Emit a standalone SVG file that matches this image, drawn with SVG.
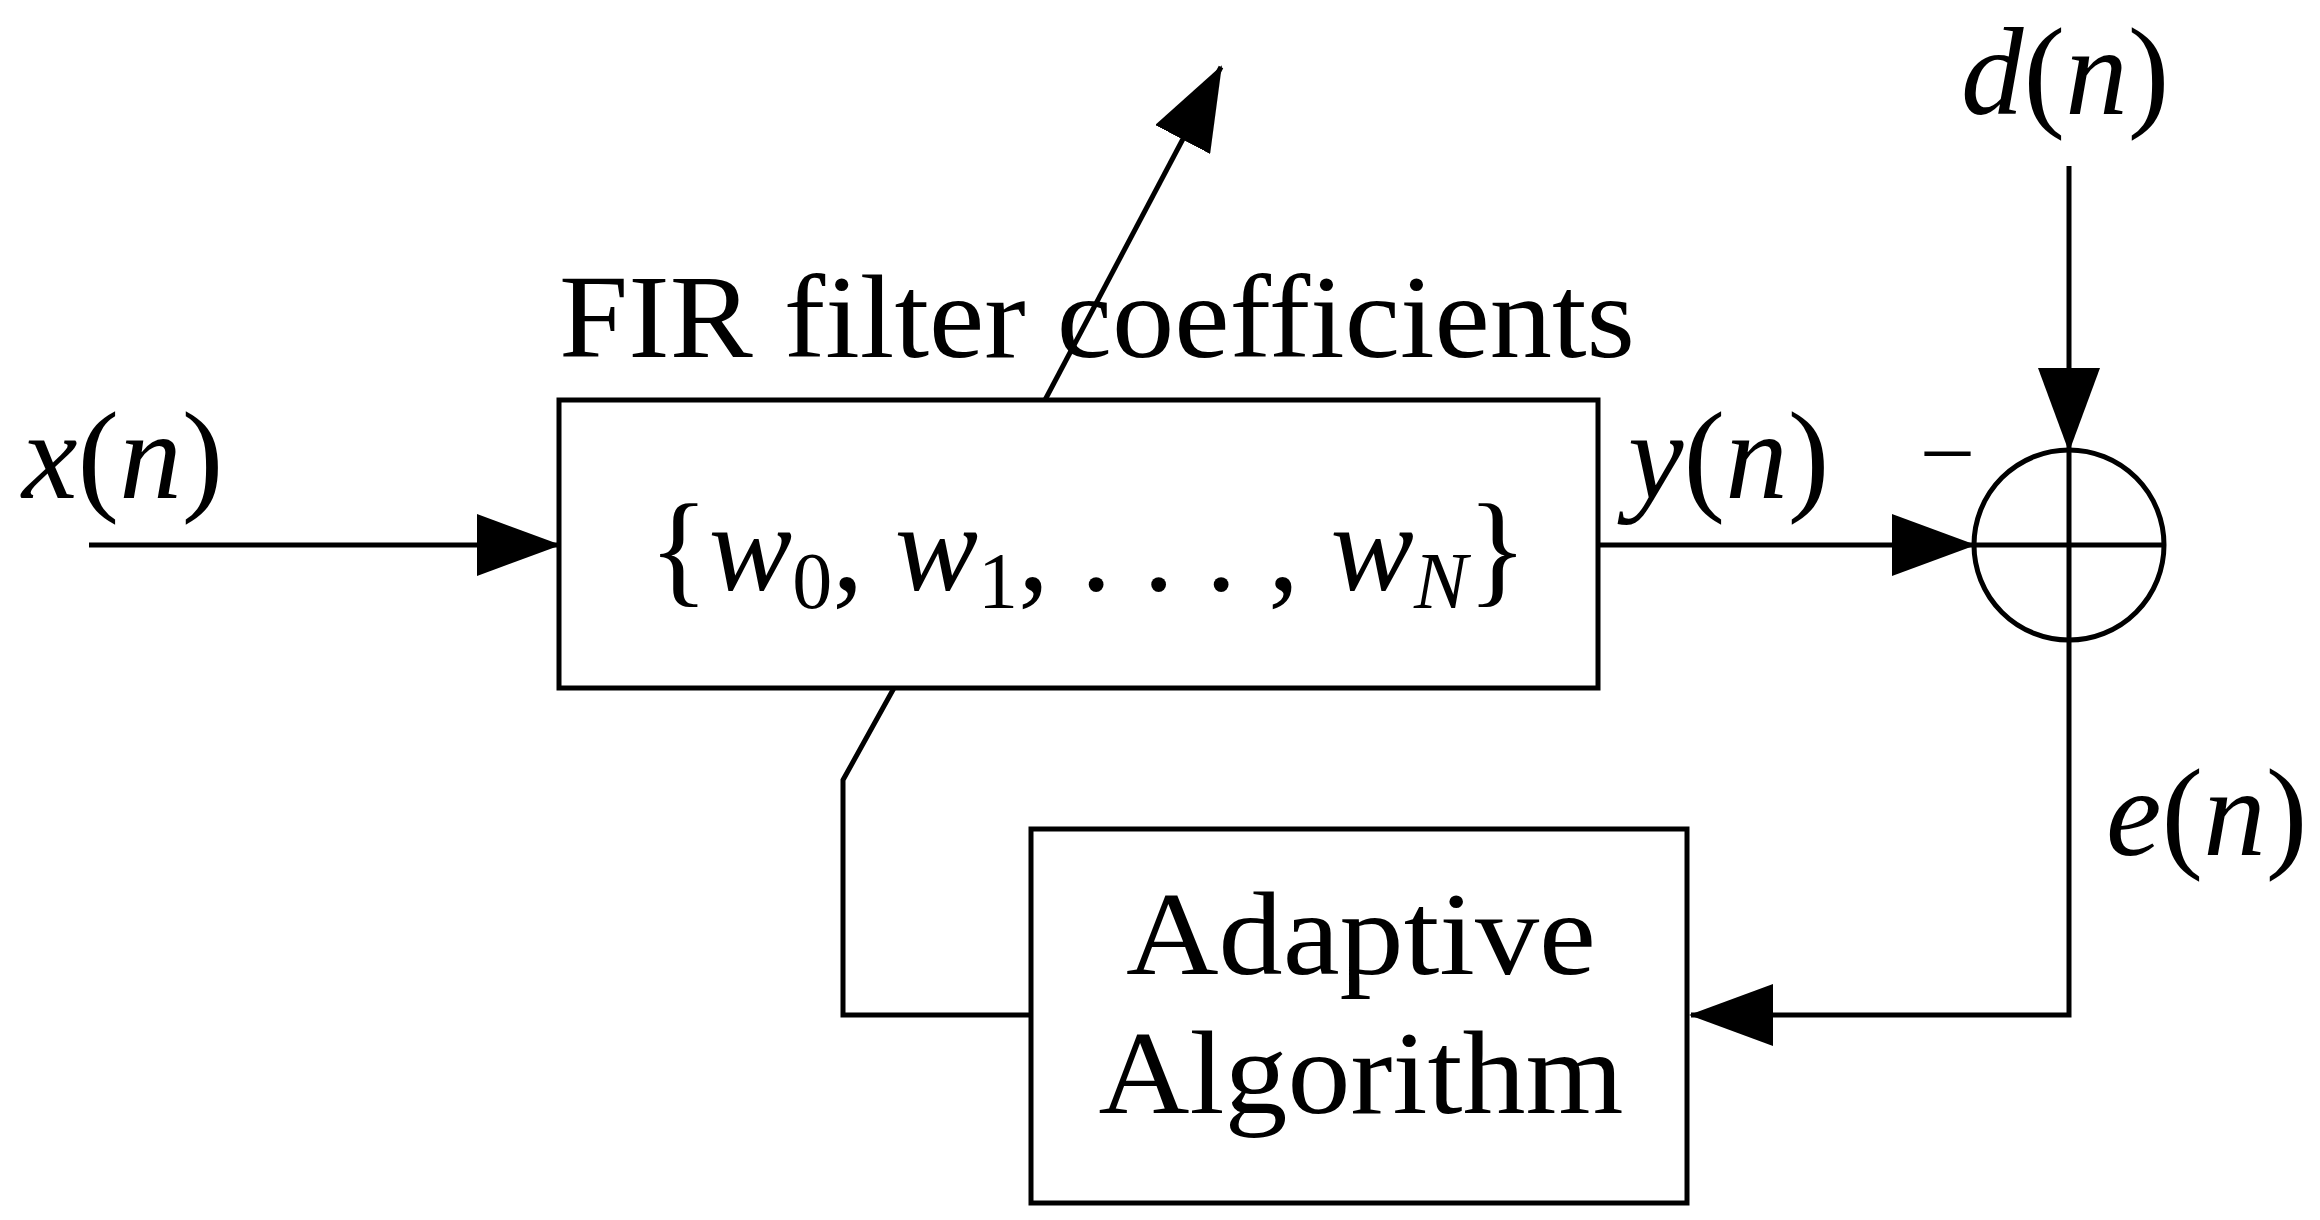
<svg xmlns="http://www.w3.org/2000/svg" width="2320" height="1220" viewBox="0 0 2320 1220">
<style>
.l{fill:none;stroke:#000;stroke-width:5}
.t{font-family:"Liberation Serif",serif;font-size:118px;fill:#000}
.m{font-family:"Liberation Serif",serif;font-style:italic;font-size:125px;fill:#000}
.s{font-size:80px}
</style>
<defs>
<marker id="a" markerUnits="userSpaceOnUse" markerWidth="84" markerHeight="62" refX="82" refY="31" orient="auto"><path d="M0,0L84,31L0,62Z" fill="#000"/></marker>
</defs>
<rect width="2320" height="1220" fill="#fff"/>
<g id="fir"><rect class="l" x="559" y="400" width="1039" height="288"/>
<text class="t" x="1088" y="590" text-anchor="middle" style="font-size:125px">{<tspan font-style="italic">w</tspan><tspan class="s" dy="18">0</tspan><tspan dy="-18">, </tspan><tspan font-style="italic">w</tspan><tspan class="s" dy="18">1</tspan><tspan dy="-18">, . . . , </tspan><tspan font-style="italic">w</tspan><tspan class="s" font-style="italic" dy="18">N</tspan><tspan dy="-18">}</tspan></text></g>
<g id="firlabel"><text class="t" x="559" y="357" textLength="1076" lengthAdjust="spacingAndGlyphs">FIR filter coefficients</text></g>
<g id="sum"><circle class="l" cx="2069" cy="545" r="95"/><path class="l" d="M1974,545H2164M2069,450V640"/>
<text class="t" x="1925" y="475" style="font-size:90px">–</text></g>
<g id="adapt"><rect class="l" x="1031" y="829" width="656" height="374"/>
<text class="t" x="1361" y="974" text-anchor="middle" textLength="470" lengthAdjust="spacingAndGlyphs">Adaptive</text>
<text class="t" x="1361" y="1113" text-anchor="middle" textLength="525" lengthAdjust="spacingAndGlyphs">Algorithm</text></g>
<g id="labels">
<text class="m" x="22" y="498">x<tspan font-style="normal">(</tspan>n<tspan font-style="normal">)</tspan></text>
<text class="m" x="1628" y="498">y<tspan font-style="normal">(</tspan>n<tspan font-style="normal">)</tspan></text>
<text class="m" x="1961" y="114">d<tspan font-style="normal">(</tspan>n<tspan font-style="normal">)</tspan></text>
<text class="m" x="2106" y="855">e<tspan font-style="normal">(</tspan>n<tspan font-style="normal">)</tspan></text>
</g>
<g id="connectors">
<path class="l" d="M89,545H559" marker-end="url(#a)"/>
<path class="l" d="M1598,545H1974" marker-end="url(#a)"/>
<path class="l" d="M2069,166V450" marker-end="url(#a)"/>
<path class="l" d="M2069,640V1015H1691" marker-end="url(#a)"/>
<path class="l" d="M1045,400L1221,67" marker-end="url(#a)"/>
<path class="l" d="M1031,1015H843V780L894,688"/>
</g>
</svg>
